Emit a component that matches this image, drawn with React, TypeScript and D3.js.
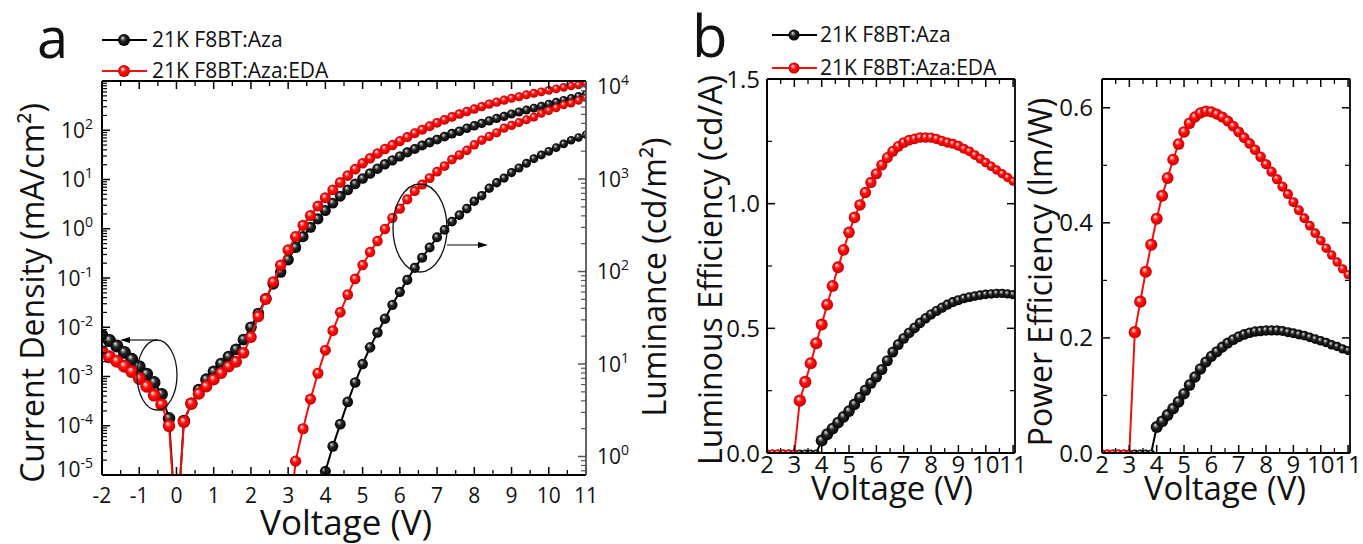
import React from 'react'
import * as d3 from 'd3'

const FONT = '"Open Sans", "Noto Sans", sans-serif'

// ---- panel a: J-V-L sweep ----
const voltA = [
  -2.0, -1.8, -1.6, -1.4, -1.2, -1.0, -0.8, -0.6, -0.4, -0.2, 0.0, 0.2, 0.4, 0.6, 0.8, 1.0, 1.2, 1.4, 1.6, 1.8,
  2.0, 2.2, 2.4, 2.6, 2.8, 3.0, 3.2, 3.4, 3.6, 3.8, 4.0, 4.2, 4.4, 4.6, 4.8, 5.0, 5.2, 5.4, 5.6, 5.8,
  6.0, 6.2, 6.4, 6.6, 6.8, 7.0, 7.2, 7.4, 7.6, 7.8, 8.0, 8.2, 8.4, 8.6, 8.8, 9.0, 9.2, 9.4, 9.6, 9.8,
  10.0, 10.2, 10.4, 10.6, 10.8, 11.0,
]
// log10 of current density (mA/cm2), -Infinity where the current crosses zero
const logJAza = [
  -2.17, -2.27, -2.38, -2.51, -2.65, -2.8, -2.95, -3.12, -3.36, -3.85, -Infinity, -3.9, -3.55, -3.27, -3.06, -2.9, -2.74, -2.6, -2.45, -2.25,
  -2.0, -1.72, -1.42, -1.12, -0.88, -0.63, -0.38, -0.16, 0.03, 0.2, 0.37, 0.52, 0.66, 0.79, 0.91, 1.02, 1.12, 1.22, 1.31, 1.39,
  1.47, 1.55, 1.62, 1.69, 1.75, 1.81, 1.87, 1.93, 1.98, 2.04, 2.09, 2.14, 2.19, 2.24, 2.28, 2.33, 2.37, 2.41, 2.45, 2.49,
  2.53, 2.57, 2.61, 2.65, 2.69, 2.73,
]
const logJEda = [
  -2.5, -2.6, -2.69, -2.79, -2.9, -3.04, -3.2, -3.38, -3.57, -4.0, -Infinity, -3.92, -3.55, -3.35, -3.2, -3.06, -2.93, -2.8, -2.7, -2.52,
  -2.2, -1.78, -1.43, -1.08, -0.74, -0.43, -0.16, 0.07, 0.27, 0.46, 0.63, 0.79, 0.94, 1.08, 1.21, 1.33, 1.43, 1.53, 1.62, 1.7,
  1.78, 1.86, 1.94, 2.01, 2.08, 2.15, 2.21, 2.27, 2.33, 2.38, 2.43, 2.48, 2.53, 2.57, 2.61, 2.65, 2.68, 2.72, 2.75, 2.78,
  2.81, 2.84, 2.87, 2.9, 2.92, 2.95,
]
// log10 of luminance (cd/m2); null = not recorded, -Infinity = no light yet
const logLAza = [
  null, null, null, null, null, null, null, null, null, null, null, null, null, null, null, null, null, null, null, null,
  null, null, null, null, null, null, null, null, null, -Infinity, -0.16, 0.11, 0.35, 0.59, 0.8, 1.0, 1.18, 1.34, 1.49, 1.64,
  1.78, 1.91, 2.04, 2.15, 2.26, 2.37, 2.45, 2.54, 2.61, 2.68, 2.76, 2.82, 2.9, 2.96, 3.01, 3.07, 3.12, 3.17, 3.22, 3.26,
  3.3, 3.34, 3.38, 3.42, 3.45, 3.48,
]
const logLEda = [
  null, null, null, null, null, null, null, null, null, null, null, null, null, null, null, null, null, null, null, null,
  null, null, null, null, null, -Infinity, -0.05, 0.3, 0.62, 0.9, 1.15, 1.36, 1.56, 1.75, 1.92, 2.07, 2.21, 2.33, 2.46, 2.58,
  2.68, 2.78, 2.87, 2.94, 3.01, 3.08, 3.14, 3.21, 3.26, 3.31, 3.37, 3.42, 3.46, 3.5, 3.55, 3.58, 3.61, 3.64, 3.67, 3.71,
  3.74, 3.77, 3.8, 3.82, 3.85, 3.88,
]

// ---- panel b: efficiencies ----
const voltB = [
  2.0, 2.2, 2.4, 2.6, 2.8, 3.0, 3.2, 3.4, 3.6, 3.8, 4.0, 4.2, 4.4, 4.6, 4.8, 5.0, 5.2, 5.4, 5.6, 5.8,
  6.0, 6.2, 6.4, 6.6, 6.8, 7.0, 7.2, 7.4, 7.6, 7.8, 8.0, 8.2, 8.4, 8.6, 8.8, 9.0, 9.2, 9.4, 9.6, 9.8,
  10.0, 10.2, 10.4, 10.6, 10.8, 11.0,
]
// luminous efficiency (cd/A)
const leAza = [
  0, 0, 0, 0, 0, 0, 0, 0, 0, 0, 0.05, 0.075, 0.098, 0.122, 0.145, 0.168, 0.195, 0.223, 0.252, 0.28,
  0.305, 0.335, 0.37, 0.405, 0.435, 0.46, 0.482, 0.502, 0.522, 0.54, 0.556, 0.57, 0.583, 0.595, 0.605, 0.613, 0.62, 0.625, 0.629, 0.633,
  0.636, 0.638, 0.64, 0.64, 0.638, 0.635,
]
const leEda = [
  0, 0, 0, 0, 0, 0, 0.21, 0.285, 0.36, 0.44, 0.515, 0.595, 0.67, 0.745, 0.815, 0.885, 0.945, 0.995, 1.045, 1.085,
  1.12, 1.155, 1.185, 1.21, 1.23, 1.245, 1.255, 1.26, 1.265, 1.265, 1.265, 1.26, 1.252, 1.245, 1.24, 1.232, 1.22, 1.21, 1.195, 1.18,
  1.165, 1.15, 1.135, 1.12, 1.105, 1.09,
]
// power efficiency (lm/W)
const peAza = [
  0, 0, 0, 0, 0, 0, 0, 0, 0, 0, 0.045, 0.055, 0.066, 0.077, 0.089, 0.103, 0.118, 0.132, 0.146, 0.158,
  0.168, 0.176, 0.184, 0.191, 0.197, 0.202, 0.206, 0.209, 0.211, 0.212, 0.213, 0.213, 0.213, 0.212, 0.21, 0.208, 0.206, 0.204, 0.201, 0.198,
  0.195, 0.192, 0.188, 0.185, 0.181, 0.178,
]
const peEda = [
  0, 0, 0, 0, 0, 0, 0.21, 0.263, 0.315, 0.362, 0.407, 0.447, 0.478, 0.51, 0.537, 0.558, 0.573, 0.584, 0.591, 0.594,
  0.593, 0.589, 0.584, 0.577, 0.568, 0.558, 0.548, 0.538, 0.527, 0.515, 0.502, 0.489, 0.476, 0.463, 0.45, 0.436, 0.422, 0.408, 0.395, 0.382,
  0.369, 0.356, 0.344, 0.332, 0.32, 0.31,
]

const seriesNames = ['21K F8BT:Aza', '21K F8BT:Aza:EDA']
const xTicksA = [-2, -1, 0, 1, 2, 3, 4, 5, 6, 7, 8, 9, 10, 11]
const expJ = [-5, -4, -3, -2, -1, 0, 1, 2, 3]
const expL = [0, 1, 2, 3, 4]
const xTicksB = [2, 3, 4, 5, 6, 7, 8, 9, 10, 11]
const yTicksLE = [0, 0.5, 1.0, 1.5]
const yTicksPE = [0, 0.2, 0.4, 0.6]

const RED = '#f01010'
const BLACK = '#000'

// plot boxes
const A = { l: 102, r: 586, t: 81, b: 475 }
const B1 = { l: 767, r: 1015, t: 79, b: 453 }
const B2 = { l: 1102, r: 1350, t: 79, b: 453 }

const xA = d3.scaleLinear().domain([-2, 11]).range([A.l, A.r])
const yJ = d3.scaleLog().domain([1e-5, 1e3]).range([A.b, A.t])
const yL = d3.scaleLog().domain([10 ** -0.2, 10 ** 4.06]).range([A.b, A.t])
const xB1 = d3.scaleLinear().domain([2, 11.07]).range([B1.l, B1.r])
const yLE = d3.scaleLinear().domain([0, 1.5]).range([B1.b, B1.t])
const xB2 = d3.scaleLinear().domain([2, 11.07]).range([B2.l, B2.r])
const yPE = d3.scaleLinear().domain([0, 0.65]).range([B2.b, B2.t])
const rA = d3.scaleLinear().domain([-2, 11]).range([6.6, 4.2])
const rB = d3.scaleLinear().domain([3, 11]).range([6.2, 4.6]).clamp(true)

type Pt = { v: number; y: number }

const pts = (volts: number[], ys: (number | null)[]): Pt[] =>
  volts.map((v, i) => ({ v, y: ys[i] as number })).filter((d) => d.y !== null)

// log-valued series: -Infinity drops below the axis (clipped)
const logY = (scale: any, floor: number) => (d: Pt) => (isFinite(d.y) ? scale(10 ** d.y) : floor + 60)

const Ball = ({ cx, cy, r, red }: { cx: number; cy: number; r: number; red: boolean }) => (
  <circle cx={cx} cy={cy} r={r} fill={red ? 'url(#ballRed)' : 'url(#ballBlack)'} />
)

function Series({ data, x, y, r, red, clip }: any) {
  const line = d3.line<Pt>().x((d) => x(d.v)).y(y)
  return (
    <g clipPath={`url(#${clip})`}>
      <path d={line(data) || ''} fill="none" stroke={red ? RED : BLACK} strokeWidth={2} />
      {data
        .filter((d: Pt) => isFinite(d.y))
        .map((d: Pt, i: number) => (
          <Ball key={i} cx={x(d.v)} cy={y(d)} r={r(d)} red={red} />
        ))}
    </g>
  )
}

// inward ticks on all four sides
function Frame({ box, xMajor, xMinor, yLeft, yLeftMinor, yRight, yRightMinor, rightColor = '#000' }: any) {
  const M = 8
  const m = 5
  return (
    <g>
      {xMajor.map((x: number, i: number) => (
        <g key={'xM' + i}>
          <line x1={x} x2={x} y1={box.b} y2={box.b - M} stroke="#000" strokeWidth={1.5} />
          <line x1={x} x2={x} y1={box.t} y2={box.t + M} stroke="#000" strokeWidth={1.5} />
        </g>
      ))}
      {xMinor.map((x: number, i: number) => (
        <g key={'xm' + i}>
          <line x1={x} x2={x} y1={box.b} y2={box.b - m} stroke="#000" strokeWidth={1.3} />
          <line x1={x} x2={x} y1={box.t} y2={box.t + m} stroke="#000" strokeWidth={1.3} />
        </g>
      ))}
      {yLeft.map((y: number, i: number) => (
        <line key={'yl' + i} x1={box.l} x2={box.l + M} y1={y} y2={y} stroke="#000" strokeWidth={1.5} />
      ))}
      {yLeftMinor.map((y: number, i: number) => (
        <line key={'ylm' + i} x1={box.l} x2={box.l + m} y1={y} y2={y} stroke="#000" strokeWidth={1.2} />
      ))}
      {yRight.map((y: number, i: number) => (
        <line key={'yr' + i} x1={box.r} x2={box.r - M} y1={y} y2={y} stroke={rightColor} strokeWidth={1.5} />
      ))}
      {yRightMinor.map((y: number, i: number) => (
        <line key={'yrm' + i} x1={box.r} x2={box.r - m} y1={y} y2={y} stroke={rightColor} strokeWidth={1.2} />
      ))}
      <line x1={box.l} x2={box.r} y1={box.t} y2={box.t} stroke="#000" strokeWidth={1.8} />
      <line x1={box.l} x2={box.r} y1={box.b} y2={box.b} stroke="#000" strokeWidth={2.2} />
      <line x1={box.l} x2={box.l} y1={box.t} y2={box.b} stroke="#000" strokeWidth={2} />
      <line x1={box.r} x2={box.r} y1={box.t} y2={box.b} stroke={rightColor} strokeWidth={1.8} />
    </g>
  )
}

const logMinor = (exps: number[], scale: any) => {
  const [lo, hi] = scale.domain()
  const out: number[] = []
  for (let e = exps[0] - 1; e <= exps[exps.length - 1]; e++) {
    for (let k = 2; k <= 9; k++) {
      const v = k * 10 ** e
      if (v > lo && v < hi) out.push(scale(v))
    }
  }
  return out
}

const halves = (ticks: number[]) => ticks.slice(0, -1).map((t, i) => (t + ticks[i + 1]) / 2)

function Legend({ x, y1, y2, tx, size }: any) {
  return (
    <g fontFamily={FONT} fontSize={21} fill="#111">
      <line x1={x} x2={x + 45} y1={y1} y2={y1} stroke={BLACK} strokeWidth={2.2} />
      <Ball cx={x + 22} cy={y1} r={size} red={false} />
      <text x={tx} y={y1 + 7}>{seriesNames[0]}</text>
      <line x1={x} x2={x + 45} y1={y2} y2={y2} stroke={RED} strokeWidth={2.2} />
      <Ball cx={x + 22} cy={y2} r={size} red={true} />
      <text x={tx} y={y2 + 7}>{seriesNames[1]}</text>
    </g>
  )
}

const Arrow = ({ x1, x2, y }: { x1: number; x2: number; y: number }) => {
  const dir = Math.sign(x2 - x1)
  return (
    <g>
      <line x1={x1} x2={x2 - dir * 7} y1={y} y2={y} stroke="#000" strokeWidth={1.1} />
      <path d={`M${x2},${y} L${x2 - dir * 10},${y - 3} L${x2 - dir * 10},${y + 3} Z`} fill="#000" />
    </g>
  )
}

export default function App() {
  const jAza = pts(voltA, logJAza)
  const jEda = pts(voltA, logJEda)
  const lAza = pts(voltA, logLAza)
  const lEda = pts(voltA, logLEda)
  const yJf = logY(yJ, A.b)
  const yLf = logY(yL, A.b)
  const rAf = (d: Pt) => rA(d.v)
  const rBf = (d: Pt) => (d.y === 0 ? 3.6 : rB(d.v))

  const le1 = pts(voltB, leAza)
  const le2 = pts(voltB, leEda)
  const pe1 = pts(voltB, peAza)
  const pe2 = pts(voltB, peEda)

  const yTickLabelA = (e: number) => Math.min(Math.max(yJ(10 ** e), A.t + 6), A.b - 6)

  return (
    <svg
      width={1363}
      height={544}
      style={{ display: 'block', position: 'absolute', left: 0, top: 0, background: '#fff' }}
      fontFamily={FONT}
    >
      <defs>
        <radialGradient id="ballRed" cx="50%" cy="50%" r="50%" fx="36%" fy="30%">
          <stop offset="0%" stopColor="#ffffff" />
          <stop offset="18%" stopColor="#ff9c9c" />
          <stop offset="45%" stopColor="#ff1414" />
          <stop offset="85%" stopColor="#e40000" />
          <stop offset="100%" stopColor="#b00000" />
        </radialGradient>
        <radialGradient id="ballBlack" cx="50%" cy="50%" r="50%" fx="36%" fy="30%">
          <stop offset="0%" stopColor="#f4f4f4" />
          <stop offset="16%" stopColor="#a0a0a0" />
          <stop offset="45%" stopColor="#262626" />
          <stop offset="100%" stopColor="#000000" />
        </radialGradient>
        <clipPath id="clipA">
          <rect x={A.l} y={A.t} width={A.r - A.l} height={A.b - A.t} />
        </clipPath>
        <clipPath id="clipB1">
          <rect x={B1.l} y={B1.t} width={B1.r - B1.l} height={B1.b - B1.t} />
        </clipPath>
        <clipPath id="clipB2">
          <rect x={B2.l} y={B2.t} width={B2.r - B2.l} height={B2.b - B2.t} />
        </clipPath>
      </defs>

      {/* ================= panel a ================= */}
      <text x={37} y={58} fontSize={56} fill="#111">a</text>
      <Legend x={102} y1={40} y2={71} tx={152} size={6} />

      <Series data={jAza} x={xA} y={yJf} r={rAf} red={false} clip="clipA" />
      <Series data={lAza} x={xA} y={yLf} r={rAf} red={false} clip="clipA" />
      <Series data={jEda} x={xA} y={yJf} r={rAf} red={true} clip="clipA" />
      <Series data={lEda} x={xA} y={yLf} r={rAf} red={true} clip="clipA" />

      <Frame
        box={A}
        xMajor={xTicksA.map((t) => xA(t))}
        xMinor={halves(xTicksA).map((t) => xA(t))}
        yLeft={expJ.map((e) => yJ(10 ** e))}
        yLeftMinor={logMinor(expJ, yJ)}
        yRight={expL.map((e) => yL(10 ** e))}
        yRightMinor={logMinor(expL, yL)}
        rightColor="#555"
      />

      {/* annotations */}
      <ellipse cx={157} cy={375} rx={20} ry={35} fill="none" stroke="#111" strokeWidth={1.3} />
      <Arrow x1={157} x2={120} y={340} />
      <ellipse cx={420} cy={228} rx={27} ry={44} fill="none" stroke="#111" strokeWidth={1.3} />
      <Arrow x1={447} x2={488} y={245} />

      {xTicksA.map((t) => (
        <text key={'xa' + t} x={xA(t)} y={503} fontSize={21} textAnchor="middle" fill="#111">
          {t}
        </text>
      ))}
      {expJ
        .filter((e) => e < 3)
        .map((e) => (
          <text key={'ja' + e} x={93} y={yTickLabelA(e) + 7.5} fontSize={21} textAnchor="end" fill="#111">
            10<tspan dy={-9} fontSize={14}>{e}</tspan>
          </text>
        ))}
      {expL.map((e) => (
        <text key={'la' + e} x={597} y={yL(10 ** e) + 7.5} fontSize={21} fill="#111">
          10<tspan dy={-9} fontSize={14}>{e}</tspan>
        </text>
      ))}
      <text x={346} y={535} fontSize={35} textAnchor="middle" fill="#111">Voltage (V)</text>
      <text transform={`translate(44,293) rotate(-90)`} fontSize={32} textAnchor="middle" fill="#111">
        Current Density (mA/cm²)
      </text>
      <text transform={`translate(666,277) rotate(-90)`} fontSize={32} textAnchor="middle" fill="#111">
        Luminance (cd/m²)
      </text>

      {/* ================= panel b ================= */}
      <text x={692} y={57} fontSize={58} fill="#111">b</text>
      <Legend x={772} y1={35} y2={68} tx={820} size={5.5} />

      <Series data={le1} x={xB1} y={(d: Pt) => yLE(d.y)} r={rBf} red={false} clip="clipB1" />
      <Series data={le2} x={xB1} y={(d: Pt) => yLE(d.y)} r={rBf} red={true} clip="clipB1" />
      <Frame
        box={B1}
        xMajor={xTicksB.map((t) => xB1(t))}
        xMinor={halves(xTicksB).map((t) => xB1(t))}
        yLeft={yTicksLE.map((t) => yLE(t))}
        yLeftMinor={halves(yTicksLE).map((t) => yLE(t))}
        yRight={yTicksLE.map((t) => yLE(t))}
        yRightMinor={halves(yTicksLE).map((t) => yLE(t))}
      />
      {xTicksB.map((t) => (
        <text key={'xb1' + t} x={xB1(t)} y={473} fontSize={24} textAnchor="middle" fill="#111">
          {t}
        </text>
      ))}
      {yTicksLE.map((t) => (
        <text key={'yb1' + t} x={760} y={yLE(t) + 8.5} fontSize={24} textAnchor="end" fill="#111">
          {d3.format('.1f')(t)}
        </text>
      ))}
      <text x={892} y={500} fontSize={33} textAnchor="middle" fill="#111">Voltage (V)</text>
      <text transform={`translate(722,270) rotate(-90)`} fontSize={32} textAnchor="middle" fill="#111">
        Luminous Efficiency (cd/A)
      </text>

      <Series data={pe1} x={xB2} y={(d: Pt) => yPE(d.y)} r={rBf} red={false} clip="clipB2" />
      <Series data={pe2} x={xB2} y={(d: Pt) => yPE(d.y)} r={rBf} red={true} clip="clipB2" />
      <Frame
        box={B2}
        xMajor={xTicksB.map((t) => xB2(t))}
        xMinor={halves(xTicksB).map((t) => xB2(t))}
        yLeft={yTicksPE.map((t) => yPE(t))}
        yLeftMinor={halves(yTicksPE).map((t) => yPE(t))}
        yRight={yTicksPE.map((t) => yPE(t))}
        yRightMinor={halves(yTicksPE).map((t) => yPE(t))}
      />
      {xTicksB.map((t) => (
        <text key={'xb2' + t} x={xB2(t)} y={473} fontSize={24} textAnchor="middle" fill="#111">
          {t}
        </text>
      ))}
      {yTicksPE.map((t) => (
        <text key={'yb2' + t} x={1093} y={yPE(t) + 8.5} fontSize={24} textAnchor="end" fill="#111">
          {d3.format('.1f')(t)}
        </text>
      ))}
      <text x={1225} y={500} fontSize={33} textAnchor="middle" fill="#111">Voltage (V)</text>
      <text transform={`translate(1052,272) rotate(-90)`} fontSize={32} textAnchor="middle" fill="#111">
        Power Efficiency (lm/W)
      </text>
    </svg>
  )
}
